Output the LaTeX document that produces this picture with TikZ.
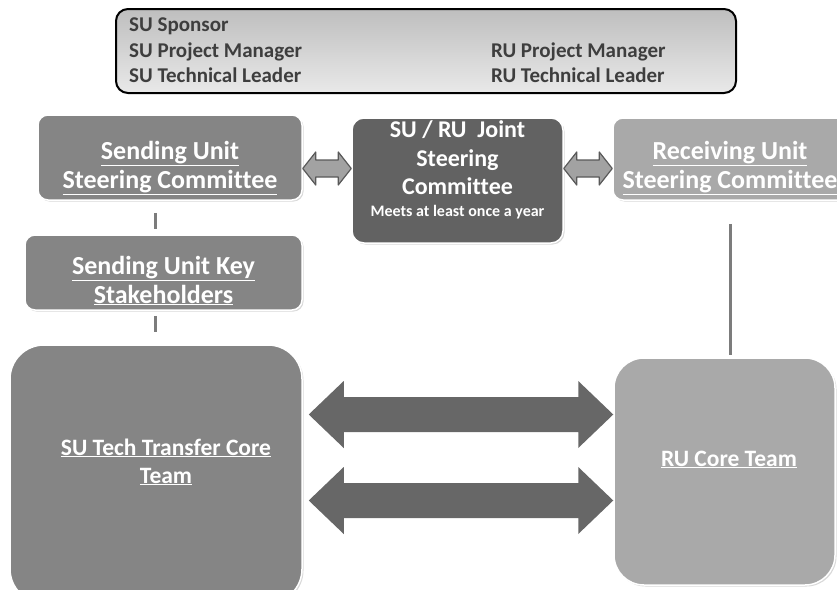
\documentclass[tikz,border=0pt]{standalone}
\usepackage{fontspec}
\setmainfont{Carlito}[Ligatures=NoCommon]
\usepackage{tikz}
\usetikzlibrary{shadows}

\definecolor{sendgray}{HTML}{858585}
\definecolor{jointgray}{HTML}{626262}
\definecolor{recvgray}{HTML}{A9A9A9}
\definecolor{linkgray}{HTML}{7C7C7C}
\definecolor{arrowdark}{HTML}{676767}
\definecolor{smallfill}{HTML}{A2A2A2}
\definecolor{smalldraw}{HTML}{595959}
\definecolor{rolestop}{HTML}{BEBEBE}
\definecolor{rolesbot}{HTML}{E9E9E9}
\definecolor{roleink}{HTML}{3E3E3E}

\begin{document}
\begin{tikzpicture}[x=1pt,y=-1pt,
  unitbox/.style={rectangle, draw=white, line width=1.5pt, rounded corners=10pt,
    drop shadow={opacity=0.3, shadow xshift=1.5pt, shadow yshift=-1.5pt}},
  boxtext/.style={align=center, anchor=base, text=white, font=\bfseries\fontsize{26}{28.5}\selectfont},
  roletext/.style={text=roleink, inner sep=0pt, font=\bfseries\fontsize{21}{24}\selectfont},
  link/.style={draw=linkgray, line width=3pt},
  smallarrow/.style={fill=smallfill, draw=smalldraw, line width=1.2pt, line join=round},
  bigarrow/.style={fill=arrowdark}
]
\useasboundingbox (0,0) rectangle (837,589);
\clip (0,0) rectangle (837,589);

%% Roles box
\node[rectangle, draw=black, line width=2pt, rounded corners=12pt,
  top color=rolestop, bottom color=rolesbot,
  minimum width=620pt, minimum height=84pt] (roles) at (426,51) {};
\node[roletext, anchor=base west] (susponsor) at (129,31) {SU Sponsor};
\node[roletext, anchor=base west] (supm) at (129,57) {SU Project Manager};
\node[roletext, anchor=base west] (sutl) at (129,82) {SU Technical Leader};
\node[roletext, anchor=base west] (rupm) at (491,57) {RU Project Manager};
\node[roletext, anchor=base west] (rutl) at (491,82) {RU Technical Leader};

%% Steering committees (text is placed by its last baseline)
\node[unitbox, fill=sendgray, minimum width=264pt, minimum height=85pt] (sendsteer) at (170,157.5) {};
\node[boxtext] (sendsteertxt) at (170,188) {\underline{Sending Unit}\\\underline{Steering Committee}};

\node[unitbox, fill=jointgray, rounded corners=12pt, minimum width=211pt, minimum height=125pt] (jointsteer) at (457.5,180.5) {};
\node[boxtext, font=\bfseries\fontsize{24}{28.5}\selectfont] (jointsteertxt) at (457.5,216)
  {SU / RU~ Joint\\Steering\\Committee\\[-7pt]{\fontsize{16}{18}\selectfont Meets at least once a year}};

\node[unitbox, fill=recvgray, minimum width=240pt, minimum height=82pt] (recvsteer) at (733,159) {};
\node[boxtext] (recvsteertxt) at (730,188) {\underline{Receiving Unit}\\\underline{Steering Committee}};

%% Key stakeholders
\node[unitbox, fill=sendgray, minimum width=277pt, minimum height=75pt] (sendkey) at (163.5,272.5) {};
\node[boxtext] (sendkeytxt) at (163.5,303) {\underline{Sending Unit Key}\\\underline{Stakeholders}};

%% Core teams
\node[unitbox, fill=sendgray, rounded corners=34pt, minimum width=292pt, minimum height=258pt] (sucore) at (156,474) {};
\node[boxtext, font=\bfseries\fontsize{23.5}{28}\selectfont] (sucoretxt) at (166,483) {\underline{SU Tech Transfer Core}\\\underline{Team}};

\node[unitbox, fill=recvgray, rounded corners=30pt, minimum width=221pt, minimum height=227pt] (rucore) at (724.5,471.5) {};
\node[boxtext, font=\bfseries\fontsize{23.5}{28}\selectfont] (rucoretxt) at (729,466) {\underline{RU Core Team}};

%% Vertical links
\coordinate (sendx) at (155,0);
\coordinate (recvx) at (730,0);
\draw[link, shorten <=12pt, shorten >=5pt] (sendsteer.south -| sendx) -- (sendkey.north -| sendx);
\draw[link, shorten <=5pt, shorten >=12pt] (sendkey.south -| sendx) -- (sucore.north -| sendx);
\draw[link, shorten <=23pt, shorten >=2pt] (recvsteer.south -| recvx) -- (rucore.north -| recvx);

%% Small double arrows to the joint committee
\coordinate (sa1l) at (sendsteer.east |- 0,168.5);
\coordinate (sa1r) at (jointsteer.west |- 0,168.5);
\coordinate (sa2l) at (jointsteer.east |- 0,168.5);
\coordinate (sa2r) at (recvsteer.west |- 0,168.5);
\draw[smallarrow] (sa1l) -- ++(13,-16.5) -- ++(0,8) -- ([shift={(-13,-8.5)}]sa1r) -- ++(0,-8)
  -- (sa1r) -- ++(-13,16.5) -- ++(0,-8) -- ([shift={(13,8.5)}]sa1l) -- ++(0,8) -- cycle;
\draw[smallarrow] (sa2l) -- ++(13,-16.5) -- ++(0,8) -- ([shift={(-13,-8.5)}]sa2r) -- ++(0,-8)
  -- (sa2r) -- ++(-13,16.5) -- ++(0,-8) -- ([shift={(13,8.5)}]sa2l) -- ++(0,8) -- cycle;

%% Big double arrows between core teams
\coordinate (ba1l) at ([xshift=6pt]sucore.east |- 0,414.5);
\coordinate (ba1r) at (rucore.west |- 0,414.5);
\coordinate (ba2l) at ([xshift=6pt]sucore.east |- 0,500.5);
\coordinate (ba2r) at (rucore.west |- 0,500.5);
\fill[bigarrow] (ba1l) -- ++(35,-33.5) -- ++(0,16) -- ([shift={(-35,-17.5)}]ba1r) -- ++(0,-16)
  -- (ba1r) -- ++(-35,33.5) -- ++(0,-16) -- ([shift={(35,17.5)}]ba1l) -- ++(0,16) -- cycle;
\fill[bigarrow] (ba2l) -- ++(35,-33.5) -- ++(0,16) -- ([shift={(-35,-17.5)}]ba2r) -- ++(0,-16)
  -- (ba2r) -- ++(-35,33.5) -- ++(0,-16) -- ([shift={(35,17.5)}]ba2l) -- ++(0,16) -- cycle;

\end{tikzpicture}
\end{document}
